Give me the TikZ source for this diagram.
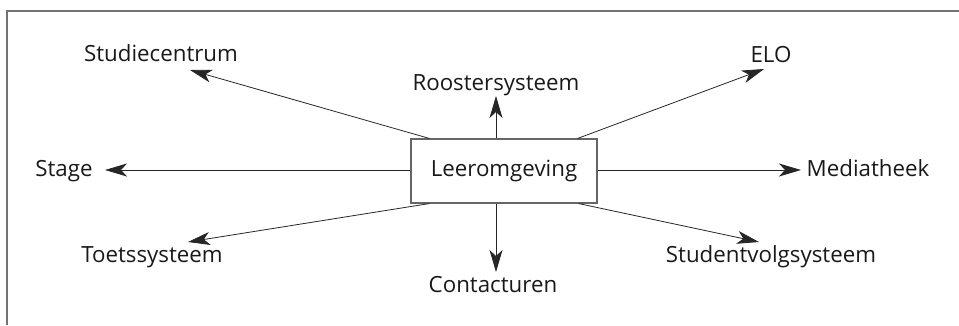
\documentclass[tikz,border=0pt]{standalone}
\usepackage{fontspec}
\setmainfont{Open Sans}
\usetikzlibrary{arrows.meta}

\begin{document}
\begin{tikzpicture}
[x=1pt,y=-1pt,
frame/.style ={draw=black!55, line width=1.1pt},
centre/.style ={rectangle, draw=black!60, line width=1.1pt,
minimum width=186pt, minimum height=64pt, inner sep=0pt},
label/.style ={anchor=base, inner sep=0pt, text=black!90,
font=\fontsize{22.3}{26}\selectfont},
line/.style ={draw=black!85, line width=0.8pt,
-{Stealth[length=22pt,width=13pt,inset=6pt]}}]
\useasboundingbox (0,0) rectangle (959,325);
% frame round the picture
\draw [frame] (7,325) -- (7,11) -- (959,11);
% central box
\node [centre, text=black!90, font=\fontsize{22.3}{26}\selectfont] (leer) at (504,171) {Leeromgeving};
% labels
\node [label] (studie)  at (161,61)  {Studiecentrum};
\node [label] (rooster) at (496,90)  {Roostersysteem};
\node [label] (elo)     at (771,62)  {ELO};
\node [label] (stage)   at (64,176)  {Stage};
\node [label] (media)   at (868,176) {Mediatheek};
\node [label] (toets)   at (152,262) {Toetssysteem};
\node [label] (contact) at (493,292) {Contacturen};
\node [label] (volg)    at (771,262) {Studentvolgsysteem};
% arrow tips
\coordinate (tStudie)  at (190,70);
\coordinate (tRooster) at (496,96);
\coordinate (tElo)     at (764,69);
\coordinate (tStage)   at (105,170);
\coordinate (tMedia)   at (801,170);
\coordinate (tToets)   at (188,242);
\coordinate (tContact) at (496,272);
\coordinate (tVolg)    at (759,242);
\begin{scope}[every path/.style=line]
\path ([xshift=19pt]leer.north west) -- (tStudie);
\path (leer.north -| tRooster) -- (tRooster);
\path ([xshift=-20pt]leer.north east) -- (tElo);
\path (leer.west |- tStage) -- (tStage);
\path (leer.east |- tMedia) -- (tMedia);
\path ([xshift=19pt]leer.south west) -- (tToets);
\path (leer.south -| tContact) -- (tContact);
\path ([xshift=-19pt]leer.south east) -- (tVolg);
\end{scope}
\end{tikzpicture}
\end{document}
